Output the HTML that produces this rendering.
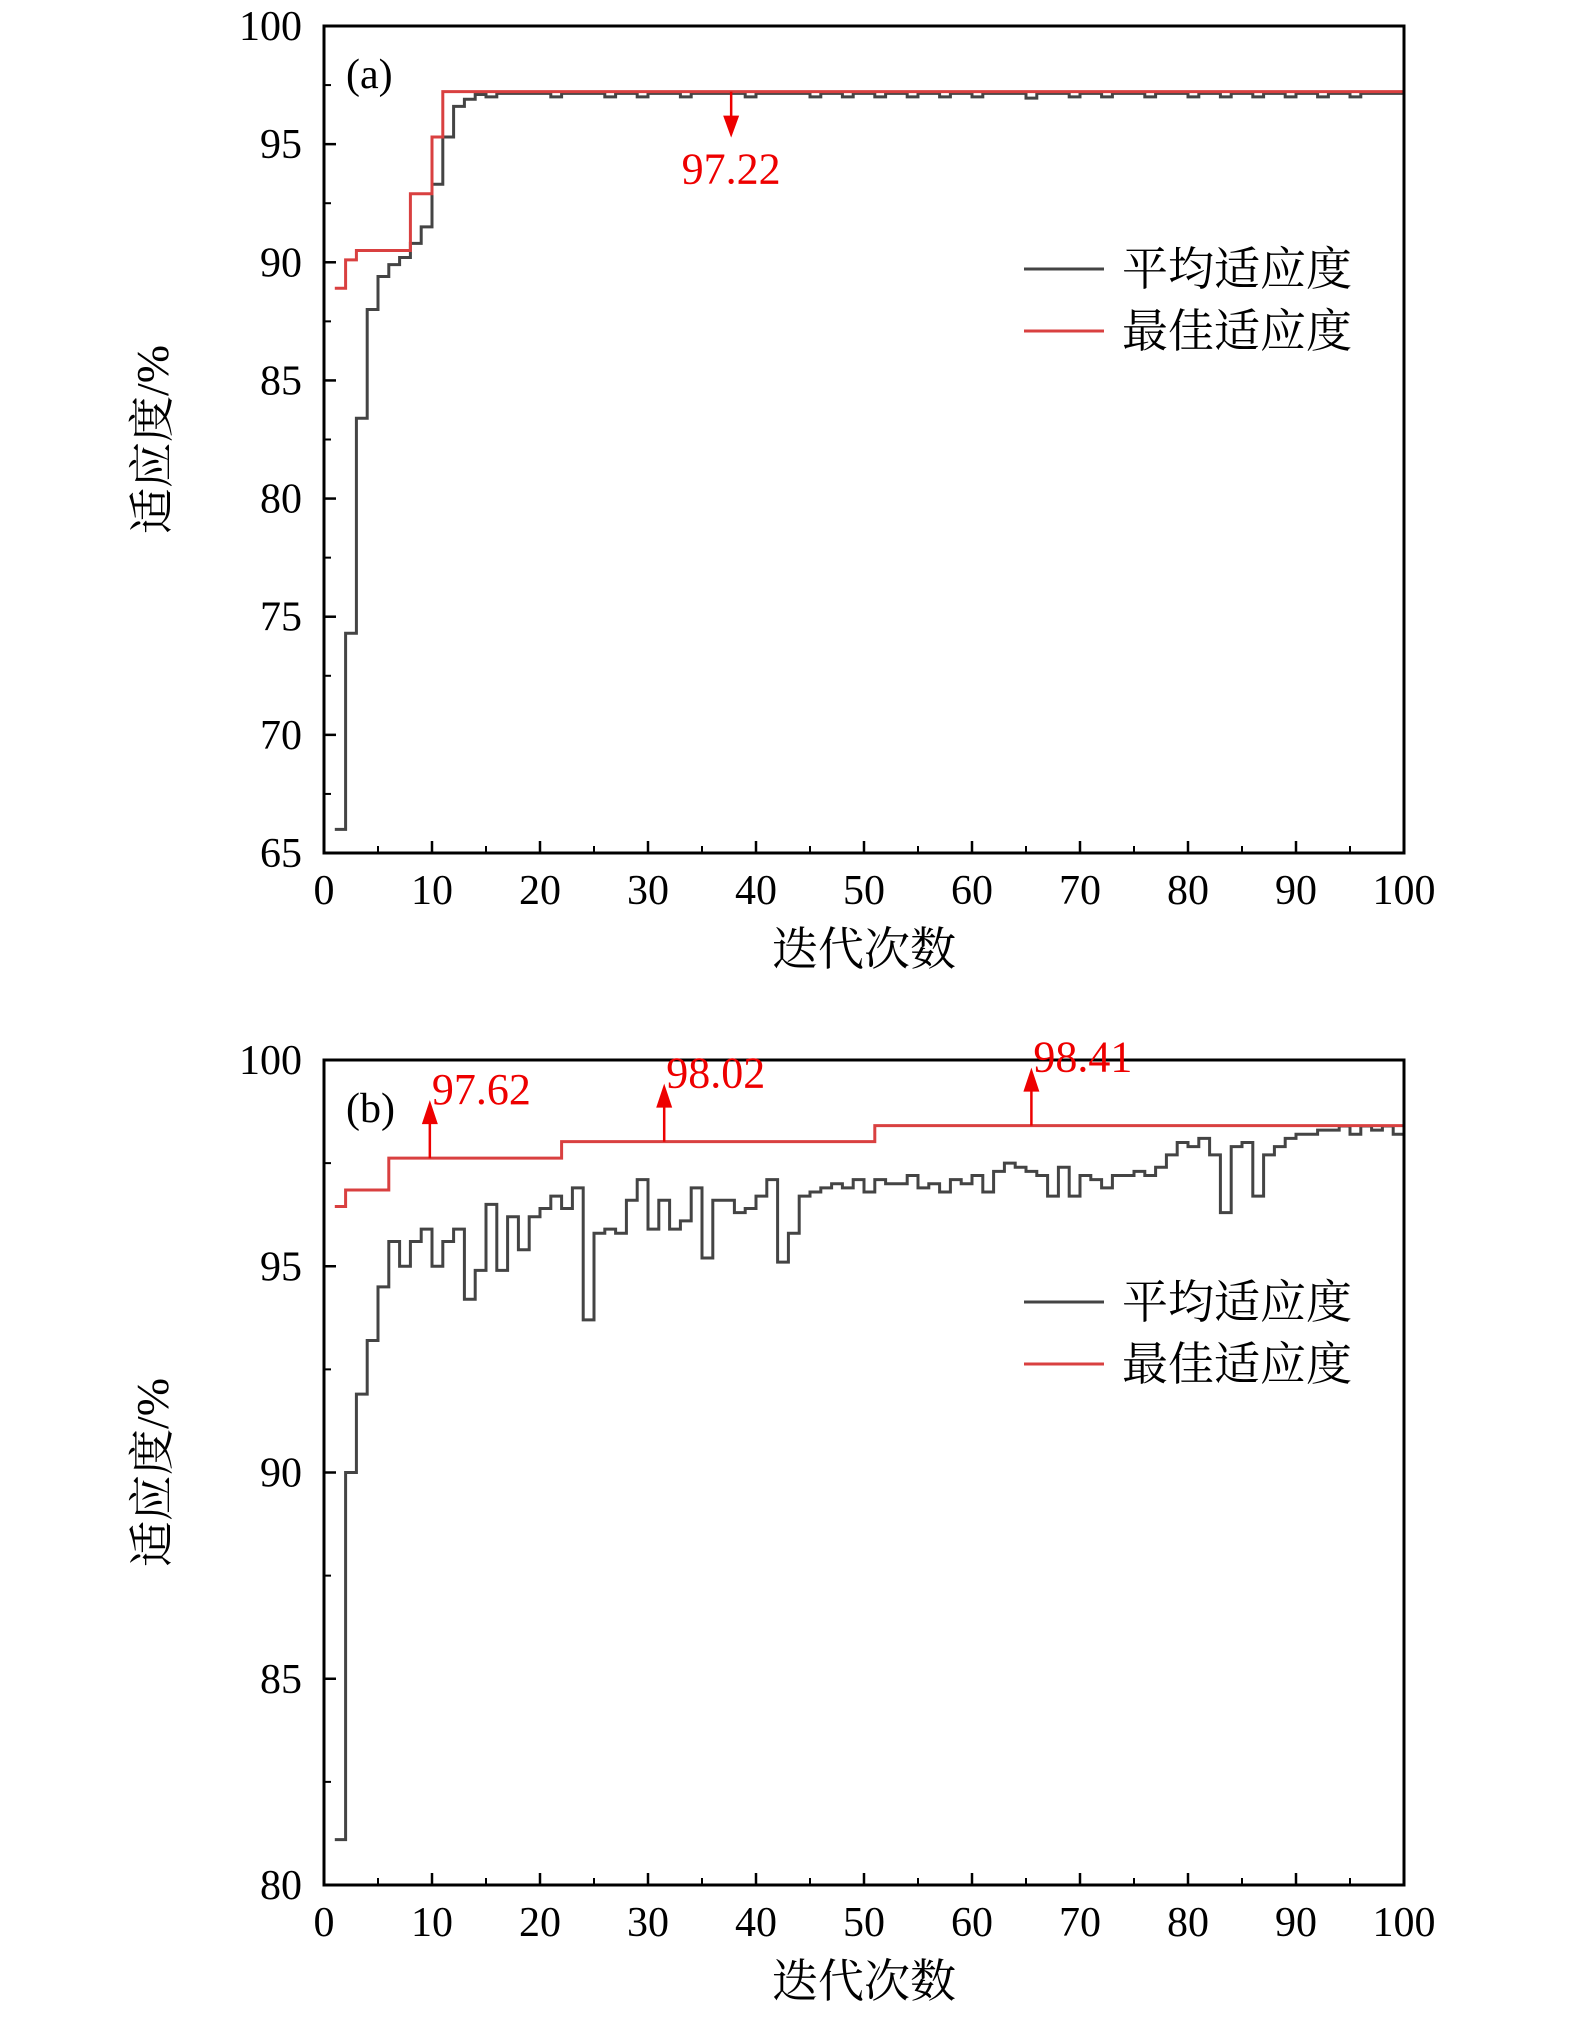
<!DOCTYPE html>
<html><head><meta charset="utf-8">
<style>
body{margin:0;background:#fff;}
svg{display:block;}
text{font-family:"Liberation Serif","Noto Serif CJK SC",serif;}
</style></head>
<body>
<svg id="fig" width="1575" height="2027" viewBox="0 0 1575 2027" xmlns="http://www.w3.org/2000/svg"></svg>
<script>
// Panel (a) data
const xA = Array.from({length:100},(_,i)=>i+1);
const avgA = [66,74.3,83.4,88,89.4,89.9,90.2,90.8,91.5,93.3,95.3,96.6,96.9,97.1,97.0,97.15,97.15,97.15,97.15,97.15,97.0,97.15,97.15,97.15,97.15,97.0,97.15,97.15,97.0,97.15,97.15,97.15,97.0,97.15,97.15,97.15,97.15,97.15,97.0,97.15,97.15,97.15,97.15,97.15,97.0,97.15,97.15,97.0,97.15,97.15,97.0,97.15,97.15,97.0,97.15,97.15,97.0,97.15,97.15,97.0,97.15,97.15,97.15,97.15,96.95,97.15,97.15,97.15,97.0,97.15,97.15,97.0,97.15,97.15,97.15,97.0,97.15,97.15,97.15,97.0,97.15,97.15,97.0,97.15,97.15,97.0,97.15,97.15,97.0,97.15,97.15,97.0,97.15,97.15,97.0,97.15,97.15,97.15,97.15,97.15];
const bestA = [88.9,90.1,90.5,90.5,90.5,90.5,90.5,92.9,92.9,95.3].concat(Array(90).fill(97.22));
// Panel (b) data
const avgB = [81.1,90,91.9,93.2,94.5,95.6,95.0,95.6,95.9,95.0,95.6,95.9,94.2,94.9,96.5,94.9,96.2,95.4,96.2,96.4,96.7,96.4,96.9,93.7,95.8,95.9,95.8,96.6,97.1,95.9,96.6,95.9,96.1,96.9,95.2,96.6,96.6,96.3,96.4,96.7,97.1,95.1,95.8,96.7,96.8,96.9,97.0,96.9,97.1,96.8,97.1,97.0,97.0,97.2,96.9,97.0,96.8,97.1,97.0,97.2,96.8,97.3,97.5,97.4,97.3,97.2,96.7,97.4,96.7,97.2,97.1,96.9,97.2,97.2,97.3,97.2,97.4,97.7,98.0,97.9,98.1,97.7,96.3,97.9,98.0,96.7,97.7,97.9,98.1,98.2,98.2,98.3,98.3,98.4,98.2,98.4,98.3,98.4,98.2,98.2];
const bestB = [96.45].concat(Array(4).fill(96.85),Array(16).fill(97.62),Array(29).fill(98.02),Array(50).fill(98.41));
const xTicks = [0,10,20,30,40,50,60,70,80,90,100];
const yTicksA = [65,70,75,80,85,90,95,100];
const yTicksB = [80,85,90,95,100];
const annA = [{x:37.7,v:97.22,label:"97.22"}];
const annB = [{x:9.8,v:97.62,label:"97.62"},{x:31.5,v:98.02,label:"98.02"},{x:65.5,v:98.41,label:"98.41"}];

const svg=document.getElementById('fig');
const NS='http://www.w3.org/2000/svg';
function mk(tag,attrs,parent){const e=document.createElementNS(NS,tag);for(const k in attrs)e.setAttribute(k,attrs[k]);(parent||svg).appendChild(e);return e;}

function panel(cfg){
  const L=324,R=1404,T=cfg.top,B=cfg.bottom;
  const sx=x=>L+(x-0)/100*(R-L);
  const sy=v=>B-(v-cfg.ymin)/(cfg.ymax-cfg.ymin)*(B-T);
  const g=mk('g',{});
  
  
  // steps
  function stepPath(vals,color,name){
    let d='';
    vals.forEach((v,i)=>{const x0=sx(i+1),x1=sx(Math.min(i+2,100));d+=(i===0?'M':'L')+x0+','+sy(v)+'L'+x1+','+sy(v);});
    const p=mk('path',{d:d,fill:'none',stroke:color,'stroke-width':3},g);
    
    
  }
  stepPath(cfg.avg,'#444','average-fitness-line');
  stepPath(cfg.best,'#d94040','best-fitness-line');
  // frame
  const fr=mk('rect',{x:L,y:T,width:R-L,height:B-T,fill:'none',stroke:'#000','stroke-width':3},g);
  
  
  // x ticks
  xTicks.forEach((t,i)=>{
    mk('line',{x1:sx(t),x2:sx(t),y1:B,y2:B-12,stroke:'#000','stroke-width':2.5},g);
    if(i<xTicks.length-1) mk('line',{x1:sx(t+5),x2:sx(t+5),y1:B,y2:B-7,stroke:'#000','stroke-width':2},g);
    const tx=mk('text',{x:sx(t),y:B+51,'font-size':42,'text-anchor':'middle'},g);
    tx.textContent=t;
    
    
  });
  cfg.yTicks.forEach((t,i)=>{
    mk('line',{x1:L,x2:L+12,y1:sy(t),y2:sy(t),stroke:'#000','stroke-width':2.5},g);
    if(i<cfg.yTicks.length-1){const m=(t+cfg.yTicks[i+1])/2;mk('line',{x1:L,x2:L+7,y1:sy(m),y2:sy(m),stroke:'#000','stroke-width':2},g);}
    const ty=mk('text',{x:302,y:sy(t)+14,'font-size':42,'text-anchor':'end'},g);
    ty.textContent=t;
    
    
  });
  const xt=mk('text',{x:(L+R)/2,y:B+112,'font-size':46,'text-anchor':'middle'},g);
  xt.textContent='迭代次数';
  
  
  const cy=(T+B)/2;
  const yt=mk('text',{x:0,y:0,'font-size':46,'text-anchor':'middle',transform:`translate(168,${cy}) rotate(-90)`},g);
  yt.textContent='适应度/%';
  
  
  const pl=mk('text',{x:346,y:T+62,'font-size':42},g);
  pl.textContent=cfg.label;
  
  
  // legend
  [['平均适应度','#444'],['最佳适应度','#d94040']].forEach((e,i)=>{
    const ly=cfg.legY+i*62;
    const ln=mk('line',{x1:1024,x2:1104,y1:ly,y2:ly,stroke:e[1],'stroke-width':3},g);
    
    
    const lt=mk('text',{x:1122,y:ly+16,'font-size':46},g);
    lt.textContent=e[0];
    
    
  });
  // annotations
  cfg.ann.forEach(a=>{
    const x=sx(a.x),y0=sy(a.v);
    if(cfg.down){
      mk('line',{x1:x,x2:x,y1:y0,y2:y0+30,stroke:'#e00','stroke-width':2.5},g);
      mk('polygon',{points:`${x-8},${y0+24} ${x+8},${y0+24} ${x},${y0+46}`,fill:'#e00'},g);
      const at=mk('text',{x:x,y:y0+92,'font-size':44,'text-anchor':'middle',fill:'#e00'},g);
      at.textContent=a.label;
      
      
    }else{
      mk('line',{x1:x,x2:x,y1:y0,y2:y0-40,stroke:'#e00','stroke-width':2.5},g);
      mk('polygon',{points:`${x-8},${y0-34} ${x+8},${y0-34} ${x},${y0-58}`,fill:'#e00'},g);
      const at=mk('text',{x:x+2,y:y0-54,'font-size':44,fill:'#e00'},g);
      at.textContent=a.label;
      
      
    }
  });
}
panel({name:'panel-a',top:26,bottom:853,ymin:65,ymax:100,yTicks:yTicksA,avg:avgA,best:bestA,label:'(a)',legY:269,ann:annA,down:true});
panel({name:'panel-b',top:1060,bottom:1885,ymin:80,ymax:100,yTicks:yTicksB,avg:avgB,best:bestB,label:'(b)',legY:1302,ann:annB,down:false});
</script>
</body></html>
